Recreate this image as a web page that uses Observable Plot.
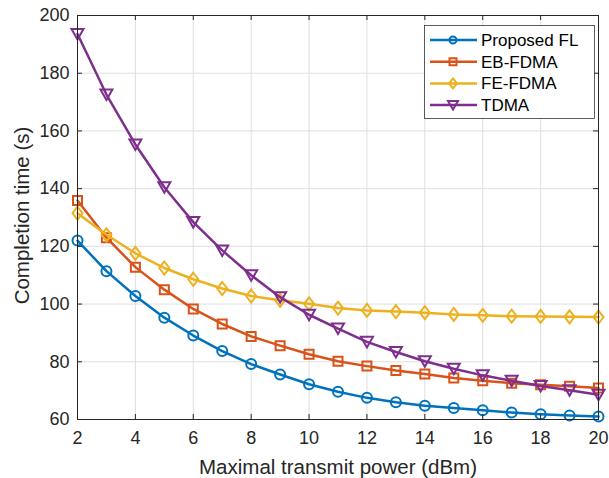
<!DOCTYPE html>
<html>
<head>
<meta charset="utf-8">
<script src="https://cdn.jsdelivr.net/npm/d3@7"></script>
<script src="https://cdn.jsdelivr.net/npm/@observablehq/plot@0.6"></script>
<style>
  html, body { margin: 0; padding: 0; background: #fff; }
</style>
</head>
<body>
<div id="chart"></div>
<script>
// ---- data ----
const power = [2, 3, 4, 5, 6, 7, 8, 9, 10, 11, 12, 13, 14, 15, 16, 17, 18, 19, 20];
const proposedFL = [122.0, 111.4, 102.8, 95.3, 89.1, 83.7, 79.2, 75.6, 72.2, 69.6, 67.5, 66.0, 64.8, 64.0, 63.2, 62.4, 61.8, 61.4, 61.0];
const ebFDMA = [135.9, 123.0, 112.8, 105.0, 98.3, 93.1, 88.8, 85.6, 82.6, 80.2, 78.5, 77.0, 75.8, 74.4, 73.4, 72.6, 72.0, 71.5, 70.9];
const feFDMA = [131.5, 124.0, 117.6, 112.5, 108.6, 105.4, 102.8, 101.3, 100.1, 98.6, 97.8, 97.4, 97.0, 96.4, 96.1, 95.8, 95.7, 95.6, 95.5];
const tdma = [193.6, 172.6, 155.3, 140.5, 128.4, 118.6, 110.0, 102.4, 96.3, 91.5, 86.9, 83.4, 80.2, 77.6, 75.3, 73.4, 71.6, 70.1, 68.6];
const seriesNames = ["Proposed FL", "EB-FDMA", "FE-FDMA", "TDMA"];
const xTicks = [2, 4, 6, 8, 10, 12, 14, 16, 18, 20];
const yTicks = [60, 80, 100, 120, 140, 160, 180, 200];
const xLabel = "Maximal transmit power (dBm)";
const yLabel = "Completion time (s)";

// ---- styles ----
const colors = ["#0072BD", "#D95319", "#EDB120", "#7E2F8E"];
const symCircle = { draw(c) { c.moveTo(5, 0); c.arc(0, 0, 5, 0, 2 * Math.PI); c.closePath(); } };
const symSquare = { draw(c) { c.rect(-4.5, -4.5, 9, 9); } };
const symDiamond = { draw(c) { c.moveTo(0, -6.5); c.lineTo(5, 0); c.lineTo(0, 6.5); c.lineTo(-5, 0); c.closePath(); } };
const symTriDown = { draw(c) { c.moveTo(-6, -5); c.lineTo(6, -5); c.lineTo(0, 5.5); c.closePath(); } };
const symbols = [symCircle, symSquare, symDiamond, symTriDown];

const allSeries = [proposedFL, ebFDMA, feFDMA, tdma];
const tables = allSeries.map((vals, i) => power.map((p, j) => ({ x: p, y: vals[j], s: seriesNames[i] })));

const W = 609, H = 478, mL = 77, mR = 11, mT = 15, mB = 59;
const pw = W - mL - mR, ph = H - mT - mB;
const font = "'Liberation Sans', Arial, Helvetica, sans-serif";
const ink = "#262626";

const seriesMarks = [];
tables.forEach((t, i) => {
  seriesMarks.push(Plot.line(t, { x: "x", y: "y", stroke: colors[i], strokeWidth: 2.5 }));
  seriesMarks.push(Plot.dot(t, { x: "x", y: "y", stroke: colors[i], strokeWidth: 2, fill: "none", symbol: symbols[i], r: 5 }));
});

const chart = Plot.plot({
  width: W, height: H,
  marginLeft: mL, marginRight: mR, marginTop: mT, marginBottom: mB,
  style: { fontFamily: font, fontSize: "18px", color: ink, background: "#fff", overflow: "visible" },
  x: { domain: [2, 20] },
  y: { domain: [60, 200] },
  marks: [
    Plot.gridX(xTicks, { stroke: "#dfdfdf", strokeOpacity: 1, strokeWidth: 1 }),
    Plot.gridY(yTicks, { stroke: "#dfdfdf", strokeOpacity: 1, strokeWidth: 1 }),
    ...seriesMarks,
    Plot.frame({ stroke: ink, strokeWidth: 1 }),
    Plot.ruleX(xTicks, { x: d => d, insetTop: ph - 5, stroke: ink }),
    Plot.ruleX(xTicks, { x: d => d, insetBottom: ph - 5, stroke: ink }),
    Plot.ruleY(yTicks, { y: d => d, insetRight: pw - 5, stroke: ink }),
    Plot.ruleY(yTicks, { y: d => d, insetLeft: pw - 5, stroke: ink }),
    Plot.axisX(xTicks, { tickSize: 0, tickPadding: 12, label: null, fontSize: 18, fill: ink }),
    Plot.axisY(yTicks, { tickSize: 0, tickPadding: 8, label: null, fontSize: 18, fill: ink }),
    Plot.text([xLabel], { frameAnchor: "bottom", dy: 48, fontSize: 20.5, fill: ink, lineAnchor: "middle", textAnchor: "middle" }),
    Plot.text([yLabel], { frameAnchor: "left", dx: -55, dy: -2, rotate: -90, fontSize: 20.5, fill: ink, lineAnchor: "middle", textAnchor: "middle" })
  ]
});

document.getElementById("chart").appendChild(chart);

// ---- legend (drawn in pixel space, top-right inside the axes) ----
const svg = d3.select(chart);
const lg = svg.append("g").attr("font-family", font).attr("font-size", 17).attr("text-anchor", "start");
lg.append("rect").attr("x", 424.5).attr("y", 25.5).attr("width", 170).attr("height", 93)
  .attr("fill", "#fff").attr("stroke", ink).attr("stroke-width", 0.75);
const legendMarkers = [
  { draw(c) { c.moveTo(3.5, 0); c.arc(0, 0, 3.5, 0, 2 * Math.PI); c.closePath(); } },
  { draw(c) { c.rect(-3.5, -3.5, 7, 7); } },
  { draw(c) { c.moveTo(0, -5); c.lineTo(4, 0); c.lineTo(0, 5); c.lineTo(-4, 0); c.closePath(); } },
  { draw(c) { c.moveTo(-5, -4); c.lineTo(5, -4); c.lineTo(0, 4.5); c.closePath(); } }
];
seriesNames.forEach((name, i) => {
  const yy = 40 + i * 21.7;
  const g = lg.append("g").attr("transform", `translate(0,${yy})`);
  g.append("line").attr("x1", 430).attr("x2", 477).attr("y1", 0).attr("y2", 0)
    .attr("stroke", colors[i]).attr("stroke-width", 2.5);
  const p = d3.path(); legendMarkers[i].draw(p);
  g.append("path").attr("d", p.toString()).attr("transform", "translate(453,0)")
    .attr("fill", "none").attr("stroke", colors[i]).attr("stroke-width", 2);
  g.append("text").attr("x", 481).attr("y", 0).attr("dy", "0.35em").attr("fill", "#000").text(name);
});
</script>
</body>
</html>
